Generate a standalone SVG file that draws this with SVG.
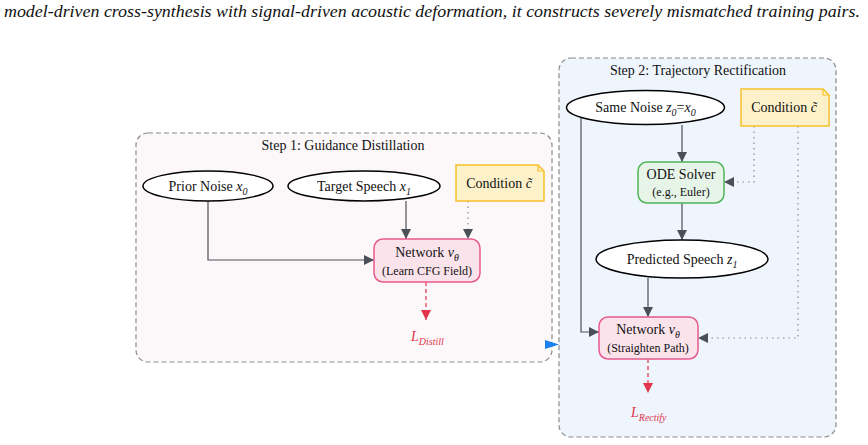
<svg xmlns="http://www.w3.org/2000/svg" width="868" height="445" viewBox="0 0 868 445" font-family="'Liberation Serif', 'Times New Roman', 'DejaVu Serif', serif">
<defs>
<marker id="ah" viewBox="0 0 10 10" refX="10" refY="5" markerWidth="10" markerHeight="10" markerUnits="userSpaceOnUse" orient="auto"><path d="M0,0 L10,5 L0,10 Z" fill="#4a5058"/></marker>
<marker id="ahr" viewBox="0 0 10 10" refX="10" refY="5" markerWidth="10" markerHeight="10" markerUnits="userSpaceOnUse" orient="auto"><path d="M0,0 L10,5 L0,10 Z" fill="#e0344a"/></marker>
</defs>
<style>
text{font-family:'Liberation Serif','Times New Roman','DejaVu Serif',serif;fill:#111}
.t{font-size:14px}
.s{font-size:12px}
.i{font-style:italic}
.cl{stroke:#8a8a8a;stroke-width:1.2;stroke-dasharray:5,3}
.el{fill:#fff;stroke:#000;stroke-width:1.5}
.note{fill:#fdf1c9;stroke:#f6c12a;stroke-width:1.5}
.net{fill:#fbe3ec;stroke:#e75a8e;stroke-width:1.5}
.ode{fill:#e7f5e8;stroke:#52b35a;stroke-width:1.5}
.e{fill:none;stroke:#4a5058;stroke-width:1.2;marker-end:url(#ah)}
.d{fill:none;stroke:#8a8a8a;stroke-width:1.2;stroke-dasharray:1.5,4;marker-end:url(#ah)}
.r{fill:none;stroke:#e0344a;stroke-width:1.2;stroke-dasharray:4,3;marker-end:url(#ahr)}
.lab{fill:#e0344a;font-style:italic}
</style>
<text x="4" y="17" class="i" font-size="16" textLength="856" lengthAdjust="spacingAndGlyphs">model-driven cross-synthesis with signal-driven acoustic deformation, it constructs severely mismatched training pairs.</text>

<g id="step1">
<rect x="136" y="133" width="416" height="229" rx="12" fill="#fcf8fa" class="cl"/>
<text x="343" y="150" text-anchor="middle" class="t">Step 1: Guidance Distillation</text>
</g>
<g id="step2">
<rect x="559" y="58" width="277" height="379" rx="12" fill="#eef5fd" class="cl"/>
<text x="698" y="75" text-anchor="middle" class="t">Step 2: Trajectory Rectification</text>
</g>

<g id="connectors">
<path class="e" d="M208,201 V260 H374"/>
<path class="e" d="M406,201 V239"/>
<path class="d" d="M468,201 V239"/>
<path class="r" d="M426,282 V320"/>
<path class="e" d="M682,125 V162"/>
<path class="d" d="M754,126 V182 H724"/>
<path class="e" d="M682,203 V240"/>
<path class="e" d="M648,278 V317"/>
<path class="e" d="M581,118 V332 H599"/>
<path class="d" d="M798,126 V338 H698"/>
<path class="r" d="M648,359 V393"/>
<path d="M545,340 L559,344.5 L545,349 Z" fill="#1a7ff0"/>
</g>

<g id="prior_noise">
<ellipse cx="208" cy="186" rx="65" ry="15" class="el"/>
<text x="208" y="191" text-anchor="middle" class="t">Prior Noise <tspan class="i">x</tspan><tspan class="i" font-size="10" dy="4">0</tspan></text>
</g>
<g id="target_speech">
<ellipse cx="364" cy="186" rx="76" ry="15" class="el"/>
<text x="364" y="191" text-anchor="middle" class="t">Target Speech <tspan class="i">x</tspan><tspan class="i" font-size="10" dy="4">1</tspan></text>
</g>
<g id="condition1">
<path d="M456,165 H538 L544,171 V201 H456 Z" class="note"/>
<path d="M538,165 V171 H544" fill="none" stroke="#f6c12a" stroke-width="1.2"/>
<text x="499" y="188" text-anchor="middle" class="t">Condition <tspan class="i">c̃</tspan></text>
</g>
<g id="network1">
<rect x="374" y="239" width="106" height="43" rx="9" class="net"/>
<text x="427" y="257" text-anchor="middle" class="t">Network <tspan class="i">v</tspan><tspan class="i" font-size="10" dy="4">θ</tspan></text>
<text x="427" y="275" text-anchor="middle" class="s">(Learn CFG Field)</text>
</g>
<g id="loss_distill">
<text x="411" y="341" class="lab" font-size="14">L<tspan font-size="10" dy="4">Distill</tspan></text>
</g>

<g id="same_noise">
<ellipse cx="645.5" cy="107.5" rx="79" ry="17" class="el"/>
<text x="645.5" y="112" text-anchor="middle" class="t">Same Noise <tspan class="i">z</tspan><tspan class="i" font-size="10" dy="4">0</tspan><tspan dy="-4">=</tspan><tspan class="i">x</tspan><tspan class="i" font-size="10" dy="4">0</tspan></text>
</g>
<g id="condition2">
<path d="M741,89 H823 L829,95 V126 H741 Z" class="note"/>
<path d="M823,89 V95 H829" fill="none" stroke="#f6c12a" stroke-width="1.2"/>
<text x="784" y="112" text-anchor="middle" class="t">Condition <tspan class="i">c̃</tspan></text>
</g>
<g id="ode_solver">
<rect x="638" y="162" width="86" height="41" rx="9" class="ode"/>
<text x="681" y="179" text-anchor="middle" class="t">ODE Solver</text>
<text x="681" y="196" text-anchor="middle" class="s">(e.g., Euler)</text>
</g>
<g id="predicted_speech">
<ellipse cx="682" cy="259" rx="86" ry="19" class="el"/>
<text x="682" y="264" text-anchor="middle" class="t">Predicted Speech <tspan class="i">z</tspan><tspan class="i" font-size="10" dy="4">1</tspan></text>
</g>
<g id="network2">
<rect x="599" y="317" width="99" height="42" rx="9" class="net"/>
<text x="648" y="334" text-anchor="middle" class="t">Network <tspan class="i">v</tspan><tspan class="i" font-size="10" dy="4">θ</tspan></text>
<text x="648" y="352" text-anchor="middle" class="s">(Straighten Path)</text>
</g>
<g id="loss_rectify">
<text x="631" y="417" class="lab" font-size="14">L<tspan font-size="10" dy="4">Rectify</tspan></text>
</g>
</svg>
